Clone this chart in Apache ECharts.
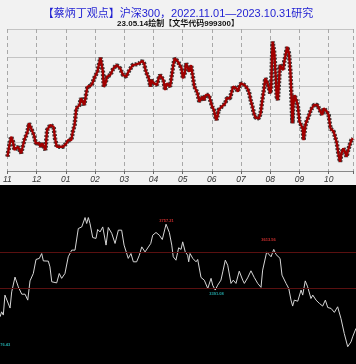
<!DOCTYPE html>
<html><head><meta charset="utf-8">
<script src="https://cdn.jsdelivr.net/npm/echarts@6/dist/echarts.min.js"></script>
<style>html,body{margin:0;padding:0;background:#f2f2f2}#c{width:356px;height:364px}</style>
</head><body><div id="c"></div>
<script>
const titleText = '【蔡炳丁观点】沪深300，2022.11.01—2023.10.31研究';
const subText = '23.05.14绘制【文华代码999300】';
const monthLabels = ['11','12','01','02','03','04','05','06','07','08','09','10'];

const topT = [0,0.02,0.08,0.13,0.19,0.24,0.3,0.36,0.41,0.47,
0.52,0.58,0.63,0.69,0.74,0.8,0.86,0.91,0.97,1.02,
1.08,1.13,1.19,1.24,1.3,1.36,1.41,1.47,1.52,1.58,
1.63,1.69,1.74,1.8,1.86,1.91,1.97,2.02,2.08,2.13,
2.19,2.24,2.3,2.36,2.41,2.47,2.52,2.58,2.63,2.69,
2.74,2.8,2.86,2.91,2.97,3.02,3.08,3.13,3.19,3.22,
3.27,3.3,3.36,3.41,3.47,3.52,3.58,3.63,3.69,3.74,
3.8,3.86,3.91,3.96,4.01,4.07,4.12,4.18,4.23,4.29,
4.34,4.4,4.46,4.51,4.57,4.62,4.68,4.73,4.79,4.84,
4.9,4.93,4.98,5.01,5.07,5.12,5.18,5.23,5.29,5.34,
5.4,5.46,5.51,5.57,5.62,5.68,5.73,5.79,5.84,5.9,
5.96,6.01,6.07,6.12,6.18,6.23,6.29,6.34,6.4,6.46,
6.51,6.57,6.62,6.68,6.73,6.79,6.84,6.9,6.96,7.01,
7.07,7.12,7.16,7.2,7.23,7.29,7.34,7.4,7.46,7.51,
7.57,7.62,7.68,7.73,7.79,7.84,7.89,7.94,8.0,8.06,
8.11,8.17,8.22,8.28,8.33,8.39,8.44,8.5,8.56,8.61,
8.67,8.72,8.78,8.83,8.89,8.94,9.0,9.03,9.08,9.11,
9.14,9.19,9.22,9.26,9.3,9.33,9.39,9.44,9.48,9.52,
9.58,9.61,9.64,9.69,9.72,9.76,9.79,9.83,9.89,9.94,
10.0,10.06,10.11,10.14,10.19,10.22,10.28,10.33,10.39,10.44,
10.5,10.56,10.61,10.67,10.72,10.78,10.83,10.89,10.94,11.0,
11.06,11.11,11.17,11.22,11.28,11.33,11.39,11.44,11.5,11.56,
11.61,11.67,11.72,11.78,11.83];
const topV = [3701,3725,3795,3842,3806,3748,3760,3771,3760,3725,
3736,3818,3830,3877,3936,3924,3877,3854,3795,3783,
3795,3771,3795,3771,3748,3889,3889,3924,3936,3912,
3830,3771,3783,3771,3760,3771,3783,3795,3818,3830,
3818,3877,3924,4042,4053,4065,4112,4088,4065,4065,
4194,4206,4201,4218,4253,4264,4299,4346,4398,4394,
4299,4194,4218,4264,4276,4276,4288,4323,4334,4346,
4358,4323,4299,4276,4288,4264,4288,4311,4323,4346,
4346,4351,4346,4358,4370,4375,4358,4311,4276,4253,
4194,4241,4229,4218,4229,4206,4253,4276,4264,4241,
4170,4218,4218,4194,4182,4346,4394,4382,4370,4358,
4323,4253,4288,4358,4370,4299,4346,4334,4194,4170,
4147,4088,4077,4123,4100,4135,4123,4135,4088,4053,
4030,3982,3959,3994,4030,4042,4053,4065,4077,4112,
4123,4112,4158,4194,4206,4182,4158,4194,4218,4229,
4206,4206,4182,4147,4100,4053,4006,3975,3964,3971,
4006,4088,4170,4253,4229,4194,4147,4182,4511,4499,
4429,4253,4123,4100,4229,4346,4358,4311,4370,4382,
4475,4487,4429,4299,4158,3936,4065,4135,4100,4065,
3947,3959,3901,3818,3901,3936,3947,3994,4030,4018,
4065,4053,4065,4053,4018,3994,4042,4042,4018,3994,
3901,3889,3877,3842,3795,3725,3665,3725,3760,3736,
3701,3748,3783,3818,3830];

const botDays = [0,1.1,2.2,3.3,4.5,6.7,7.8,10,12.2,14.5,
16.7,18.5,20,22.2,24,26.2,27.8,28.9,32.2,33.3,
34.5,37.8,39.5,41.1,43.3,45.5,47.8,50,52.2,54.5,
56.7,57.8,58.9,60,61.8,64,65.1,66.7,68.5,70.7,
72.2,74.5,76.7,78.9,81.1,82.7,85.5,87.3,88.9,91.1,
92.9,94.5,96.7,97.8,100.5,101.8,104,106.2,108.2,110.7,
112.9,114.5,115.5,117.3,119.1,120.7,121.8,123.5,125.1,125.8,
126.7,128.5,130.7,131.8,134,136.2,138.5,140.7,141.8,143.5,
145.1,147.3,148.5,150.2,151.8,154,155.5,157.3,159.5,161.8,
162.9,165.1,167.3,169.5,171.8,174,175.1,176.2,177.8,179.1,
180.7,182.5,184,186.7,188,190.7,192.5,194,195.1,196.2,
198.5,200.7,201.8,203.5,205.1,207.3,208.5,210.7,212.9,215.1,
216.9,218.5,220.7,222.9,225.1,227.3,229.5,231.8,234,235.1,
237.3];
const botValues = [3242,3270,3252,3363,3374,3291,3381,3463,3409,3368,
3368,3335,3442,3483,3561,3567,3594,3553,3552,3520,
3437,3431,3483,3456,3483,3576,3613,3613,3733,3742,
3794,3761,3794,3761,3683,3678,3728,3714,3742,3641,
3739,3706,3650,3724,3724,3641,3567,3594,3548,3548,
3585,3631,3603,3603,3650,3696,3711,3696,3672,3757,
3711,3641,3576,3557,3626,3617,3659,3603,3585,3548,
3594,3567,3548,3561,3461,3446,3400,3456,3418,3391,
3418,3446,3492,3557,3529,3428,3446,3428,3496,3446,
3428,3459,3498,3461,3428,3406,3502,3511,3603,3613,
3576,3617,3589,3567,3474,3428,3400,3335,3302,3335,
3329,3391,3363,3442,3409,3344,3363,3335,3317,3302,
3335,3294,3289,3267,3298,3233,3150,3076,3103,3131,
3178];
const levelLines = [3600, 3400];
const markDays = [111, 179, 144.3, 2];
const markValues = [3776, 3672, 3367, 3085];
const markTexts = ['3757.21', '3613.56', '3391.08', '3076.43'];
const markColors = ['#ff3a3a', '#ff3a3a', '#2ad0d0', '#2ad0d0'];

const topData = topT.map((t, i) => [t, topV[i]]);
const botData = botDays.map((d, i) => [d, botValues[i]]);
const markData = markDays.map((d, i) => ({
  value: [d, markValues[i]],
  label: { formatter: markTexts[i], color: markColors[i] }
}));

const chart = echarts.init(document.getElementById('c'));
chart.setOption({
  animation: false,
  backgroundColor: '#f2f2f2',
  title: [
    { text: titleText, left: 'center', top: 3,
      textStyle: { color: '#1e1ed2', fontSize: 11, fontWeight: 'normal', fontFamily: "'Liberation Sans','Noto Sans CJK SC'" } },
    { text: subText, left: 'center', top: 15,
      textStyle: { color: '#111', fontSize: 8, fontWeight: 'bold', fontFamily: "'Liberation Sans','Noto Sans CJK SC'" } }
  ],
  grid: [
    { left: 1, right: 0, top: 29, height: 142, show: true, backgroundColor: '#f0f0f0', borderWidth: 0 },
    { left: 0, right: 0, top: 185, bottom: 0, show: true, backgroundColor: '#000', borderWidth: 0 }
  ],
  xAxis: [
    { gridIndex: 0, type: 'value', min: 0, max: 11.8333, interval: 1,
      axisLine: { show: true, lineStyle: { color: '#888' } },
      axisTick: { show: true, length: 3, lineStyle: { color: '#666' } },
      axisLabel: { color: '#333', fontSize: 8.5, fontStyle: 'italic', margin: 4,
        fontFamily: "'Liberation Sans'", formatter: v => monthLabels[Math.round(v)] || '' },
      splitLine: { show: true, lineStyle: { color: '#a8a8a8', type: [4, 3], width: 1 } } },
    { gridIndex: 1, type: 'value', min: 0, max: 237.33, show: false, splitLine: { show: false } }
  ],
  yAxis: [
    { gridIndex: 0, type: 'value', min: 3600, max: 4600, interval: 200,
      axisLine: { show: false }, axisTick: { show: false }, axisLabel: { show: false },
      splitLine: { show: true, lineStyle: { color: '#c4c4c4', width: 1 } } },
    { gridIndex: 1, type: 'value', min: 2980, max: 3975, show: false, splitLine: { show: false } }
  ],
  series: [
    { type: 'line', xAxisIndex: 0, yAxisIndex: 0, data: topData, symbol: 'none',
      lineStyle: { color: '#3a3a3a', width: 4.5, type: [2, 1.5] } },
    { type: 'line', xAxisIndex: 0, yAxisIndex: 0, data: topData, symbol: 'none',
      lineStyle: { color: '#a00000', width: 2.4 } },
    { type: 'line', xAxisIndex: 1, yAxisIndex: 1, data: botData, symbol: 'none',
      lineStyle: { color: '#d6d6d6', width: 1 },
      markLine: { silent: true, symbol: 'none', label: { show: false },
        lineStyle: { color: '#5a1010', width: 1, type: 'solid' },
        data: levelLines.map(v => ({ yAxis: v })) } },
    { type: 'scatter', xAxisIndex: 1, yAxisIndex: 1, data: markData, symbolSize: 0,
      label: { show: true, position: 'inside', fontSize: 4, fontWeight: 'bold', fontFamily: "'Liberation Sans'" } }
  ]
});
</script></body></html>
